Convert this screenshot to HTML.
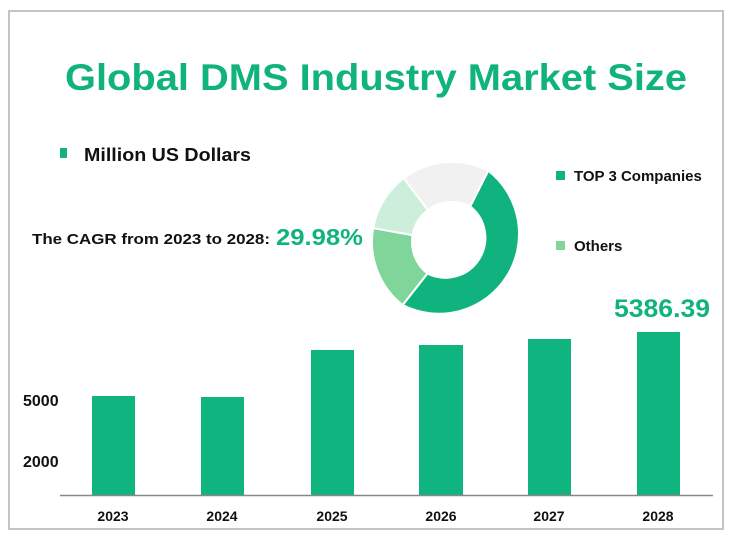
<!DOCTYPE html>
<html><head><meta charset="utf-8"><style>
body{margin:0;background:#fff;}
svg text{font-family:"Liberation Sans",sans-serif;font-weight:bold;}
</style></head><body>
<svg width="731" height="549" viewBox="0 0 731 549" xmlns="http://www.w3.org/2000/svg">
<rect x="0" y="0" width="731" height="549" fill="#fff"/>
<rect x="9" y="11" width="714" height="518" fill="none" stroke="#c4c4c4" stroke-width="2"/>
<text x="65" y="90" font-size="37" fill="#10b37e" textLength="622" lengthAdjust="spacingAndGlyphs">Global DMS Industry Market Size</text>
<rect x="60" y="148" width="7" height="10" fill="#10b37e"/>
<text x="84" y="161" font-size="18" fill="#111" textLength="167" lengthAdjust="spacingAndGlyphs">Million US Dollars</text>
<text x="32" y="244" font-size="15" fill="#111" textLength="238" lengthAdjust="spacingAndGlyphs">The CAGR from 2023 to 2028:</text>
<text x="276" y="245" font-size="23" fill="#10b37e" textLength="87" lengthAdjust="spacingAndGlyphs">29.98%</text>
<g transform="translate(452,242)">
<path d="M36.3,-71.3 A80,80 0 0 1 -49.3,63.0 L-24.6,31.5 A40,40 0 0 0 18.2,-35.6 Z" fill="#10b37e" stroke="#fff" stroke-width="2"/>
<path d="M-49.3,63.0 A80,80 0 0 1 -78.8,-13.9 L-39.4,-6.9 A40,40 0 0 0 -24.6,31.5 Z" fill="#7fd59a" stroke="#fff" stroke-width="2"/>
<path d="M-78.8,-13.9 A80,80 0 0 1 -48.2,-63.9 L-24.1,-31.9 A40,40 0 0 0 -39.4,-6.9 Z" fill="#cdeeda" stroke="#fff" stroke-width="2"/>
<path d="M-48.2,-63.9 A80,80 0 0 1 36.3,-71.3 L18.2,-35.6 A40,40 0 0 0 -24.1,-31.9 Z" fill="#f1f1f1" stroke="#fff" stroke-width="2"/>
</g>
<rect x="556" y="171" width="9" height="9" fill="#10b37e"/>
<text x="574" y="181" font-size="15" fill="#111">TOP 3 Companies</text>
<rect x="556" y="241" width="9" height="9" fill="#7fd59a"/>
<text x="574" y="251" font-size="15" fill="#111">Others</text>
<text x="614" y="317" font-size="25" fill="#10b37e" textLength="96" lengthAdjust="spacingAndGlyphs">5386.39</text>
<g fill="#0fb47f">
<rect x="92" y="396" width="43" height="99"/>
<rect x="201" y="397" width="43" height="98"/>
<rect x="311" y="350" width="43" height="145"/>
<rect x="419" y="345" width="44" height="150"/>
<rect x="528" y="339" width="43" height="156"/>
<rect x="637" y="332" width="43" height="163"/>
</g>
<line x1="60" y1="495.5" x2="713" y2="495.5" stroke="#888" stroke-width="1.5"/>
<text x="23" y="406" font-size="16" fill="#111">5000</text>
<text x="23" y="467" font-size="16" fill="#111">2000</text>
<g font-size="14" fill="#111" text-anchor="middle">
<text x="113" y="521">2023</text>
<text x="222" y="521">2024</text>
<text x="332" y="521">2025</text>
<text x="441" y="521">2026</text>
<text x="549" y="521">2027</text>
<text x="658" y="521">2028</text>
</g>
</svg>
</body></html>
